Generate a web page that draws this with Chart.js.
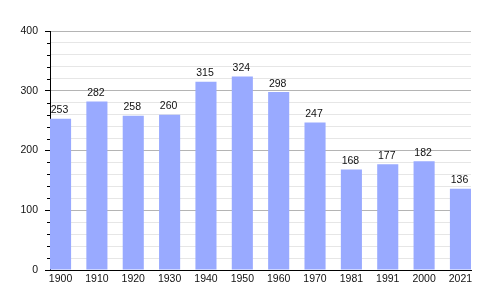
<!DOCTYPE html>
<html>
<head>
<meta charset="utf-8">
<script src="https://cdn.jsdelivr.net/npm/chart.js@4/dist/chart.umd.min.js"></script>
<style>
    html, body { margin: 0; padding: 0; background: #fff; }
    #wrap { width: 500px; height: 300px; }
</style>
</head>
<body>
<div id="wrap"><canvas id="chart"></canvas></div>
<script>
const years = ["1900", "1910", "1920", "1930", "1940", "1950", "1960", "1970", "1981", "1991", "2000", "2021"];
const population = [253, 282, 258, 260, 315, 324, 298, 247, 168, 177, 182, 136];
const yMax = 400;
const majorStep = 100;
const minorStep = 20;

const FONT = { family: "'Liberation Sans', Arial, sans-serif", size: 10.5 };

// value labels above each bar
const barLabels = {
    id: "barLabels",
    afterDatasetsDraw(chart) {
        const ctx = chart.ctx;
        const meta = chart.getDatasetMeta(0);
        ctx.save();
        ctx.font = `${FONT.size}px ${FONT.family}`;
        ctx.fillStyle = "#111";
        ctx.textAlign = "center";
        ctx.textBaseline = "bottom";
        meta.data.forEach((bar, i) => {
            ctx.fillText(String(population[i]), bar.x - 1, bar.y - 3);
        });
        ctx.restore();
    }
};

// short black minor ticks on the left axis
const minorTicks = {
    id: "minorTicks",
    afterDraw(chart) {
        const y = chart.scales.y;
        const ctx = chart.ctx;
        ctx.save();
        ctx.strokeStyle = "#000";
        ctx.lineWidth = 1;
        y.ticks.forEach(t => {
            if (t.value % majorStep === 0) return;
            const py = Math.round(y.getPixelForValue(t.value)) + 0.5;
            ctx.beginPath();
            ctx.moveTo(y.right - 3, py);
            ctx.lineTo(y.right, py);
            ctx.stroke();
        });
        ctx.restore();
    }
};

new Chart(document.getElementById("chart"), {
    type: "bar",
    data: {
        datasets: [{
            data: population.map((v, i) => ({ x: i, y: v })),
            backgroundColor: "#99aaff",
            borderWidth: 0,
            barPercentage: 0.58,
            categoryPercentage: 1
        }]
    },
    options: {
        responsive: true,
        maintainAspectRatio: false,
        animation: false,
        layout: { padding: { top: 31, right: 29, left: 0, bottom: 0 } },
        plugins: { legend: { display: false }, tooltip: { enabled: false } },
        scales: {
            x: {
                type: "linear",
                offset: false,
                min: -0.29,
                max: years.length - 1 + 0.29,
                afterBuildTicks: scale => {
                    scale.ticks = years.map((_, i) => ({ value: i }));
                },
                afterFit: scale => { scale.height = 30; },
                ticks: {
                    color: "#111",
                    font: FONT,
                    padding: 3,
                    maxRotation: 0,
                    autoSkip: false,
                    callback: v => years[v]
                },
                grid: { display: true, drawOnChartArea: false, drawTicks: false },
                border: { color: "#000", width: 1 }
            },
            y: {
                min: 0,
                max: yMax,
                afterFit: scale => { scale.width = 50; },
                ticks: {
                    stepSize: minorStep,
                    autoSkip: false,
                    color: "#111",
                    font: FONT,
                    padding: 7,
                    callback: v => (v % majorStep === 0 ? String(v) : "")
                },
                grid: {
                    tickLength: 5,
                    color: ctx => (ctx.tick && ctx.tick.value % majorStep === 0 ? "#b4b4b4" : "#e6e6e6"),
                    tickColor: ctx => (ctx.tick && ctx.tick.value % majorStep === 0 ? "#000" : "rgba(0,0,0,0)")
                },
                border: { color: "#000", width: 1 }
            }
        }
    },
    plugins: [barLabels, minorTicks]
});
</script>
</body>
</html>
